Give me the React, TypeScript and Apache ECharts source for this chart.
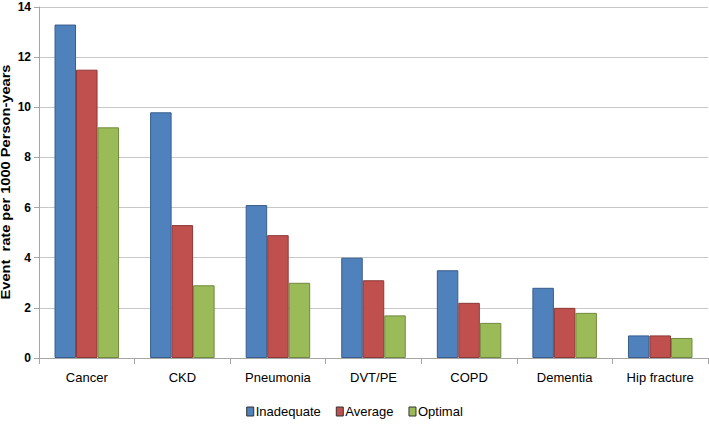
import React, { useEffect, useRef } from "react";
import * as echarts from "echarts";

const categories = ["Cancer", "CKD", "Pneumonia", "DVT/PE", "COPD", "Dementia", "Hip fracture"];
const inadequate = [13.3, 9.8, 6.1, 4.0, 3.5, 2.8, 0.9];
const average = [11.5, 5.3, 4.9, 3.1, 2.2, 2.0, 0.9];
const optimal = [9.2, 2.9, 3.0, 1.7, 1.4, 1.8, 0.8];
const yAxisTitle = "Event  rate per 1000 Person-years";

const FONT = "'Liberation Sans', Arial, sans-serif";

export default function App() {
  const ref = useRef<HTMLDivElement>(null);
  useEffect(() => {
    if (!ref.current) return;
    const chart = echarts.init(ref.current, undefined, { renderer: "svg" });
    const mk = (name: string, data: number[], color: string, border: string) => ({
      name,
      type: "bar",
      data,
      barWidth: "22.5%",
      barGap: "0%",
      itemStyle: { color, borderColor: border, borderWidth: 1 },
    });
    chart.setOption({
      animation: false,
      backgroundColor: "#ffffff",
      textStyle: { fontFamily: FONT },
      grid: { left: 39, right: 1, top: 7, bottom: 67, containLabel: false, outerBoundsMode: "none" },
      graphic: [
        {
          type: "text",
          x: 6,
          y: 182,
          rotation: Math.PI / 2,
          scaleX: 1.22,
          style: {
            text: yAxisTitle,
            font: "bold 12px 'Liberation Sans', Arial, sans-serif",
            fill: "#000",
            align: "center",
            verticalAlign: "middle",
          },
        },
      ],
      legend: {
        bottom: 2,
        left: "center",
        itemWidth: 7,
        itemHeight: 9,
        itemGap: 15,
        icon: "rect",
        itemStyle: { borderColor: "#333", borderWidth: 1 },
        textStyle: { fontFamily: FONT, fontSize: 13, color: "#000", padding: [0, 0, 0, -3] },
        data: ["Inadequate", "Average", "Optimal"],
      },
      xAxis: {
        type: "category",
        data: categories,
        axisLine: { lineStyle: { color: "#a6a6a6" } },
        axisTick: { show: true, alignWithLabel: false, length: 6, lineStyle: { color: "#a6a6a6" } },
        axisLabel: { color: "#000", fontSize: 13, fontFamily: FONT, margin: 13, interval: 0 },
      },
      yAxis: {
        type: "value",
        min: 0,
        max: 14,
        interval: 2,
        axisLine: { show: true, lineStyle: { color: "#a6a6a6" } },
        axisTick: { show: true, length: 5, lineStyle: { color: "#a6a6a6" } },
        axisLabel: { color: "#000", fontSize: 12, fontWeight: "bold", fontFamily: FONT, margin: 8 },
        splitLine: { lineStyle: { color: "#c8c8c8" } },
      },
      series: [
        mk("Inadequate", inadequate, "#4F81BD", "#385D8A"),
        mk("Average", average, "#C0504D", "#8C3836"),
        mk("Optimal", optimal, "#9BBB59", "#71893F"),
      ],
    });
    return () => chart.dispose();
  }, []);
  return (
    <div
      ref={ref}
      style={{ position: "fixed", left: 0, top: 0, width: 709, height: 425, background: "#fff" }}
    />
  );
}
